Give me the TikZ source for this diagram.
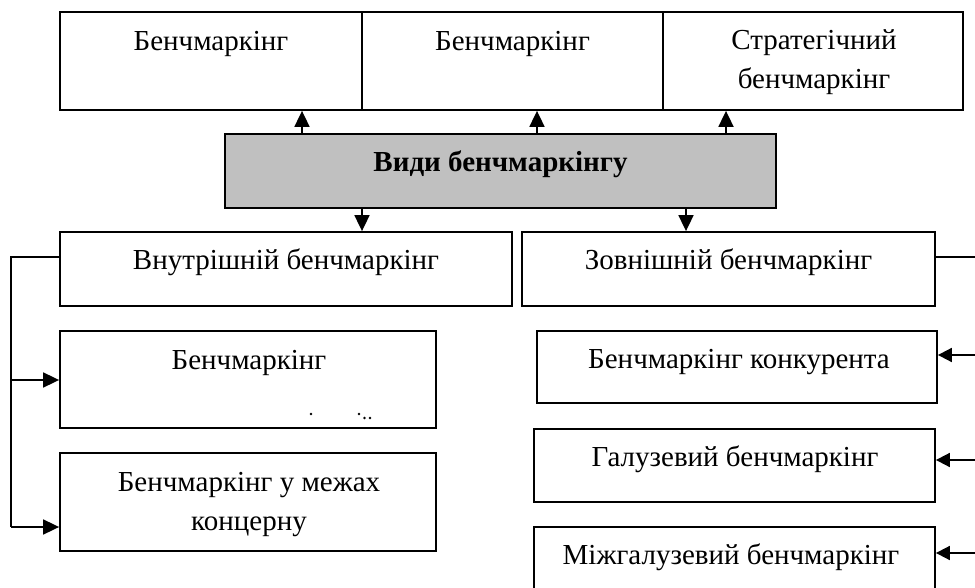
\documentclass[tikz,border=0pt]{standalone}
\usepackage{fontspec}
\setmainfont{Liberation Serif}
\usetikzlibrary{arrows.meta}
\definecolor{boxgray}{RGB}{192,192,192}
\tikzset{
  box/.style={draw=black, line width=1.8pt, rectangle, inner sep=0pt, fill=white},
  graybox/.style={box, fill=boxgray},
  txt/.style={anchor=base, inner sep=0pt, align=center, font=\fontsize{29}{39}\selectfont},
  conn/.style={line width=1.6pt},
  thinconn/.style={line width=1.2pt},
  arr/.style={line width=1.8pt, -{Triangle[length=16pt,width=15pt]}},
  rarr/.style={line width=1.8pt, -{Triangle[length=14pt,width=14pt]}}
}
\begin{document}
\begin{tikzpicture}[x=1pt,y=-1pt]
\useasboundingbox (0,0) rectangle (975,588);
\clip (0,0) rectangle (975,588);
% top boxes
\node[box, minimum width=302pt, minimum height=98pt] (b1) at (211,61) {};
\node[box, minimum width=301pt, minimum height=98pt] (b2) at (512.5,61) {};
\node[box, minimum width=300pt, minimum height=98pt] (b3) at (813,61) {};
\node[txt] (t1) at (211,51) {Бенчмаркінг};
\node[txt] (t2) at (512.5,51) {Бенчмаркінг};
\node[txt] (t3a) at (814,50) {Стратегічний};
\node[txt] (t3b) at (814,89) {бенчмаркінг};
% central
\node[graybox, minimum width=551pt, minimum height=74pt] (g) at (500.5,171) {};
\node[txt, font=\fontsize{29}{39}\selectfont\bfseries] (gt) at (500.5,172) {Види бенчмаркінгу};
% second level
\node[box, minimum width=452pt, minimum height=74pt] (in) at (286,269) {};
\node[box, minimum width=413pt, minimum height=74pt] (out) at (728.5,269) {};
\node[txt] (tin) at (286,270) {Внутрішній бенчмаркінг};
\node[txt] (tout) at (728.5,270) {Зовнішній бенчмаркінг};
% left boxes
\node[box, minimum width=376pt, minimum height=97pt] (l1) at (248,379.5) {};
\node[txt] (tl1) at (249,369) {Бенчмаркінг};
\node[box, minimum width=376pt, minimum height=98pt] (l2) at (248,502) {};
\node[txt] (tl2a) at (249,491) {Бенчмаркінг у межах};
\node[txt] (tl2b) at (249,530) {концерну};
% right boxes
\node[box, minimum width=400pt, minimum height=72pt] (r1) at (737,367) {};
\node[txt] (tr1) at (739,368) {Бенчмаркінг конкурента};
\node[box, minimum width=401pt, minimum height=73pt] (r2) at (734.5,465.5) {};
\node[txt] (tr2) at (735,466) {Галузевий бенчмаркінг};
\node[box, minimum width=401pt, minimum height=93pt] (r3) at (734.5,573.5) {};
\node[txt] (tr3) at (731,564) {Міжгалузевий бенчмаркінг};
% remnant dots
\fill (311,414) circle (1.3pt);
\fill (359,414) circle (1.3pt);
\fill (364.5,418) circle (1.3pt);
\fill (370,418) circle (1.3pt);
% arrows up from gray box
\draw[arr] (302,134) coordinate (gu1) -- (gu1 |- b1.south);
\draw[arr] (537,134) coordinate (gu2) -- (gu2 |- b2.south);
\draw[arr] (726,134) coordinate (gu3) -- (gu3 |- b3.south);
% arrows down
\draw[arr] (362,208) coordinate (gd1) -- (gd1 |- in.north);
\draw[arr] (686,208) coordinate (gd2) -- (gd2 |- out.north);
% left connector
\coordinate (lc) at (11,257);
\draw[conn] (in.west |- lc) -- (lc) -- (11,527) coordinate (lb);
\draw[arr] (11,380) coordinate (lm) -- (lm -| l1.west);
\draw[arr] (lb) -- (lb -| l2.west);
% right connectors
\coordinate (rc) at (976,257);
\draw[thinconn] (out.east |- rc) -- (rc);
\coordinate (ra1) at (976,355);
\coordinate (ra2) at (976,460);
\coordinate (ra3) at (976,553);
\draw[rarr] (ra1) -- (ra1 -| r1.east);
\draw[rarr] (ra2) -- (ra2 -| r2.east);
\draw[rarr] (ra3) -- (ra3 -| r3.east);
\end{tikzpicture}
\end{document}
